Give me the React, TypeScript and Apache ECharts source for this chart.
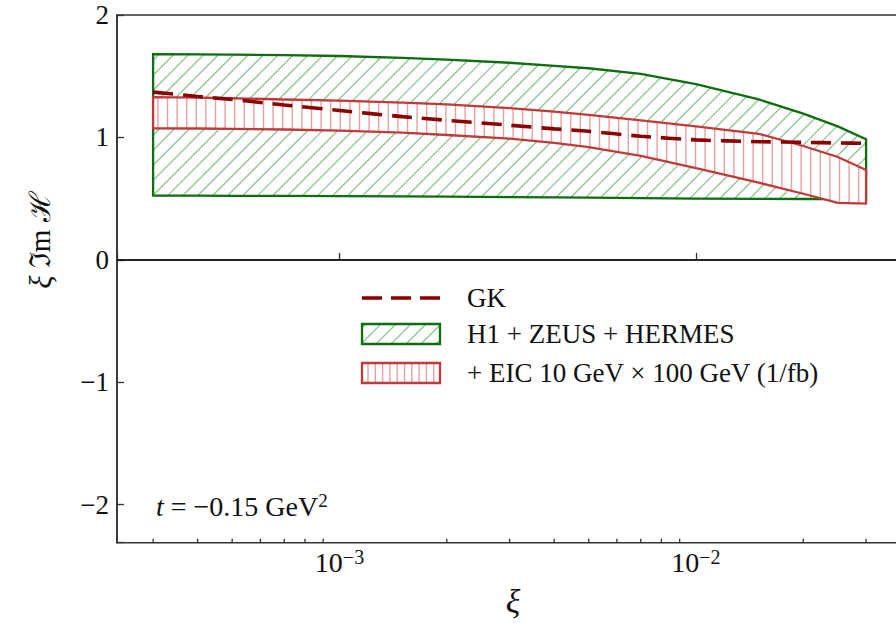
import React, { useEffect, useRef } from 'react';
import * as echarts from 'echarts';

// ---- data ----
const xi = [3e-4, 4e-4, 5e-4, 7e-4, 1e-3, 1.5e-3, 2e-3, 3e-3, 4e-3, 5e-3, 7e-3, 1e-2, 1.5e-2, 2e-2, 2.5e-2, 3e-2];
const gkValues = [1.37, 1.335, 1.31, 1.265, 1.22, 1.17, 1.14, 1.1, 1.07, 1.05, 1.01, 0.98, 0.965, 0.96, 0.955, 0.952];
const h1Upper = [1.68, 1.678, 1.676, 1.672, 1.665, 1.65, 1.635, 1.61, 1.585, 1.565, 1.52, 1.435, 1.31, 1.195, 1.09, 0.985];
const h1Lower = [0.525, 0.524, 0.523, 0.522, 0.52, 0.518, 0.516, 0.512, 0.51, 0.508, 0.505, 0.5, 0.498, 0.497, 0.496, 0.495];
const eicUpper = [1.33, 1.325, 1.32, 1.31, 1.3, 1.285, 1.27, 1.24, 1.21, 1.185, 1.14, 1.09, 1.03, 0.93, 0.84, 0.735];
const eicLower = [1.075, 1.073, 1.07, 1.065, 1.055, 1.04, 1.02, 0.99, 0.955, 0.92, 0.85, 0.75, 0.63, 0.54, 0.465, 0.46];
const minorTickValues = [3e-4, 4e-4, 5e-4, 6e-4, 7e-4, 8e-4, 9e-4, 2e-3, 3e-3, 4e-3, 5e-3, 6e-3, 7e-3, 8e-3, 9e-3, 2e-2, 3e-2];
const legendLabels = ['GK', 'H1 + ZEUS + HERMES', '+ EIC 10 GeV × 100 GeV (1/fb)'];

const X_MIN = 2.376e-4;
const X_MAX = 0.04;
const Y_MIN = -2.31;
const Y_MAX = 2;

const CHART_W = 920;
const FONT = "'Liberation Serif', 'DejaVu Serif', serif";
const GREEN_EDGE = '#0e6e0e';
const GREEN_HATCH = '#92c492';
const RED_EDGE = '#c13a3a';
const RED_HATCH = '#e6a0a0';
const GK_COLOR = '#8b0000';
const AXIS_COLOR = '#333';

function interp(pts: number[][], x: number) {
  if (x <= pts[0][0]) return pts[0][1];
  for (let i = 0; i < pts.length - 1; i++) {
    const a = pts[i];
    const b = pts[i + 1];
    if (x <= b[0]) {
      const t = (x - a[0]) / (b[0] - a[0]);
      return a[1] + t * (b[1] - a[1]);
    }
  }
  return pts[pts.length - 1][1];
}

function root(f: (x: number) => number, lo: number, hi: number) {
  if (f(lo) <= 0) return lo;
  if (f(hi) >= 0) return hi;
  let a = lo;
  let b = hi;
  for (let k = 0; k < 50; k++) {
    const m = (a + b) / 2;
    if (f(m) > 0) a = m;
    else b = m;
  }
  return (a + b) / 2;
}

function makeBand(upper: number[], lower: number[], edge: string, hatch: string, kind: 'vertical' | 'diagonal') {
  return (params: any, api: any) => {
    const top = xi.map((x, i) => api.coord([x, upper[i]]));
    const bot = xi.map((x, i) => api.coord([x, lower[i]]));
    const poly = top.concat(bot.slice().reverse());
    const xl = top[0][0];
    const xr = top[top.length - 1][0];
    const children: any[] = [
      { type: 'polygon', shape: { points: poly }, style: { fill: '#ffffff', stroke: 'none' } },
    ];
    if (kind === 'vertical') {
      const step = 9.6;
      for (let x = xl + step / 2; x < xr - 0.5; x += step) {
        children.push({
          type: 'line',
          shape: { x1: x, y1: interp(top, x), x2: x, y2: interp(bot, x) },
          style: { stroke: hatch, lineWidth: 1.4 },
        });
      }
    } else {
      const step = 15;
      const yTop = Math.min(...top.map((p: number[]) => p[1]));
      const yBot = Math.max(...bot.map((p: number[]) => p[1]));
      for (let c = xl + yTop + 6; c < xr + yBot; c += step) {
        const g1 = (x: number) => c - x - interp(top, x);
        const g2 = (x: number) => c - x - interp(bot, x);
        const a = root(g2, xl, xr);
        const b = root(g1, xl, xr);
        if (b - a > 0.5) {
          children.push({
            type: 'line',
            shape: { x1: a, y1: c - a, x2: b, y2: c - b },
            style: { stroke: hatch, lineWidth: 1.3 },
          });
        }
      }
    }
    children.push({
      type: 'polygon',
      shape: { points: poly },
      style: { fill: 'none', stroke: edge, lineWidth: 2.3, lineJoin: 'miter' },
    });
    return { type: 'group', children };
  };
}

function legendHatchRect(x: number, y: number, w: number, h: number, edge: string, hatch: string, kind: 'vertical' | 'diagonal') {
  const els: any[] = [
    { type: 'rect', shape: { x, y, width: w, height: h }, style: { fill: '#fff' }, z: 100 },
  ];
  if (kind === 'vertical') {
    for (let px = x + 6; px < x + w - 2; px += 7.3) {
      els.push({ type: 'line', shape: { x1: px, y1: y, x2: px, y2: y + h }, style: { stroke: hatch, lineWidth: 1.4 }, z: 101 });
    }
  } else {
    for (let c = -h + 4; c < w; c += 15) {
      const tMin = Math.max(0, -c);
      const tMax = Math.min(h, w - c);
      if (tMax > tMin) {
        els.push({
          type: 'line',
          shape: { x1: x + c + tMin, y1: y + h - tMin, x2: x + c + tMax, y2: y + h - tMax },
          style: { stroke: hatch, lineWidth: 1.3 },
          z: 101,
        });
      }
    }
  }
  els.push({ type: 'rect', shape: { x, y, width: w, height: h }, style: { fill: 'none', stroke: edge, lineWidth: 2.3 }, z: 102 });
  return els;
}

export default function App() {
  const ref = useRef<HTMLDivElement>(null);

  useEffect(() => {
    if (!ref.current) return;
    const chart = echarts.init(ref.current, undefined, { renderer: 'svg' });

    const textStyleBase = { fontFamily: FONT, fill: '#111' };

    const graphic: any[] = [
      // legend
      {
        type: 'line',
        shape: { x1: 362, y1: 298, x2: 440, y2: 298 },
        style: { stroke: GK_COLOR, lineWidth: 3.5, lineDash: [20, 9] },
        z: 100,
      },
      ...legendHatchRect(362, 324, 78, 20, GREEN_EDGE, GREEN_HATCH, 'diagonal'),
      ...legendHatchRect(362, 363, 78, 20, RED_EDGE, RED_HATCH, 'vertical'),
      { type: 'text', x: 467, y: 298, style: { ...textStyleBase, text: legendLabels[0], fontSize: 27, verticalAlign: 'middle' }, z: 100 },
      { type: 'text', x: 467, y: 334, style: { ...textStyleBase, text: legendLabels[1], fontSize: 27, verticalAlign: 'middle' }, z: 100 },
      { type: 'text', x: 467, y: 373, style: { ...textStyleBase, text: legendLabels[2], fontSize: 27, verticalAlign: 'middle' }, z: 100 },
      // annotation
      {
        type: 'text',
        x: 156,
        y: 506,
        style: {
          ...textStyleBase,
          text: '{it|t} = −0.15 GeV{sup|2}',
          fontSize: 28,
          verticalAlign: 'middle',
          rich: {
            it: { fontFamily: FONT, fontStyle: 'italic', fontSize: 28, lineHeight: 30, fill: '#111' },
            sup: { fontFamily: FONT, fontSize: 19, lineHeight: 18, verticalAlign: 'top', fill: '#111' },
          },
        },
        z: 100,
      },
      // axis titles
      {
        type: 'text',
        x: 513,
        y: 601,
        style: { ...textStyleBase, text: 'ξ', fontStyle: 'italic', fontSize: 34, align: 'center', verticalAlign: 'middle' },
        z: 100,
      },
      {
        type: 'text',
        x: 40,
        y: 240,
        rotation: Math.PI / 2,
        style: {
          ...textStyleBase,
          text: '{it|ξ} ℑm ℋ',
          fontSize: 29,
          align: 'center',
          verticalAlign: 'middle',
          rich: { it: { fontFamily: FONT, fontStyle: 'italic', fontSize: 31, fill: '#111' } },
        },
        z: 100,
      },
    ];

    chart.setOption({
      animation: false,
      backgroundColor: '#ffffff',
      grid: {
        left: 117,
        top: 15,
        right: CHART_W - 910.6,
        bottom: 80.3,
        show: true,
        borderColor: AXIS_COLOR,
        borderWidth: 1.6,
        backgroundColor: 'transparent',
      },
      xAxis: {
        type: 'log',
        logBase: 10,
        min: X_MIN,
        max: X_MAX,
        axisLine: { show: true, lineStyle: { color: AXIS_COLOR, width: 1.6 } },
        axisTick: { show: true, inside: true, length: 7, lineStyle: { color: AXIS_COLOR, width: 1.3 } },
        splitLine: { show: false },
        axisLabel: {
          show: true,
          margin: 4,
          color: '#111',
          fontFamily: FONT,
          fontSize: 28,
          lineHeight: 32,
          formatter: (v: number) => {
            const l = Math.log10(v);
            const r = Math.round(l);
            if (Math.abs(l - r) > 1e-6) return '';
            return '10{sup|−' + -r + '}';
          },
          rich: {
            sup: { fontFamily: FONT, fontSize: 20, lineHeight: 20, verticalAlign: 'top', color: '#111' },
          },
        },
      },
      yAxis: {
        type: 'value',
        min: Y_MIN,
        max: Y_MAX,
        splitNumber: 4,
        axisLine: { show: true, lineStyle: { color: AXIS_COLOR, width: 1.6 } },
        axisTick: { show: true, inside: true, length: 7, lineStyle: { color: AXIS_COLOR, width: 1.3 } },
        splitLine: { show: false },
        axisLabel: {
          margin: 8,
          color: '#111',
          fontFamily: FONT,
          fontSize: 27,
          formatter: (v: number) => {
            if (Math.abs(v - Math.round(v)) > 1e-6) return '';
            const r = Math.round(v);
            return r < 0 ? '−' + -r : String(r);
          },
        },
      },
      series: [
        {
          type: 'custom',
          name: legendLabels[1],
          renderItem: makeBand(h1Upper, h1Lower, GREEN_EDGE, GREEN_HATCH, 'diagonal'),
          data: [[xi[0], h1Upper[0]]],
          clip: false,
          silent: true,
          z: 2,
        },
        {
          type: 'custom',
          name: legendLabels[2],
          renderItem: makeBand(eicUpper, eicLower, RED_EDGE, RED_HATCH, 'vertical'),
          data: [[xi[0], eicUpper[0]]],
          clip: false,
          silent: true,
          z: 3,
        },
        {
          type: 'line',
          name: legendLabels[0],
          data: xi.map((x, i) => [x, gkValues[i]]),
          showSymbol: false,
          smooth: 0.2,
          silent: true,
          z: 4,
          lineStyle: { color: GK_COLOR, width: 3.6, type: [20, 10] },
          markLine: {
            silent: true,
            symbol: ['none', 'none'],
            label: { show: false },
            lineStyle: { color: '#111', width: 1.6, type: 'solid' },
            data: [{ yAxis: 0 }],
          },
        },
        {
          type: 'custom',
          name: 'minor ticks',
          renderItem: (params: any, api: any) => {
            const children = minorTickValues.map((v) => {
              const p = api.coord([v, Y_MIN]);
              return {
                type: 'line',
                shape: { x1: p[0], y1: p[1], x2: p[0], y2: p[1] - 4 },
                style: { stroke: AXIS_COLOR, lineWidth: 1.3 },
              };
            });
            return { type: 'group', children };
          },
          data: [[minorTickValues[0], Y_MIN]],
          clip: false,
          silent: true,
          z: 5,
        },
      ],
      graphic,
    });

    return () => {
      chart.dispose();
    };
  }, []);

  return (
    <div
      style={{
        position: 'fixed',
        left: 0,
        top: 0,
        width: '896px',
        height: '623px',
        overflow: 'hidden',
        background: '#fff',
      }}
    >
      <div ref={ref} style={{ width: CHART_W + 'px', height: '623px' }} />
    </div>
  );
}
